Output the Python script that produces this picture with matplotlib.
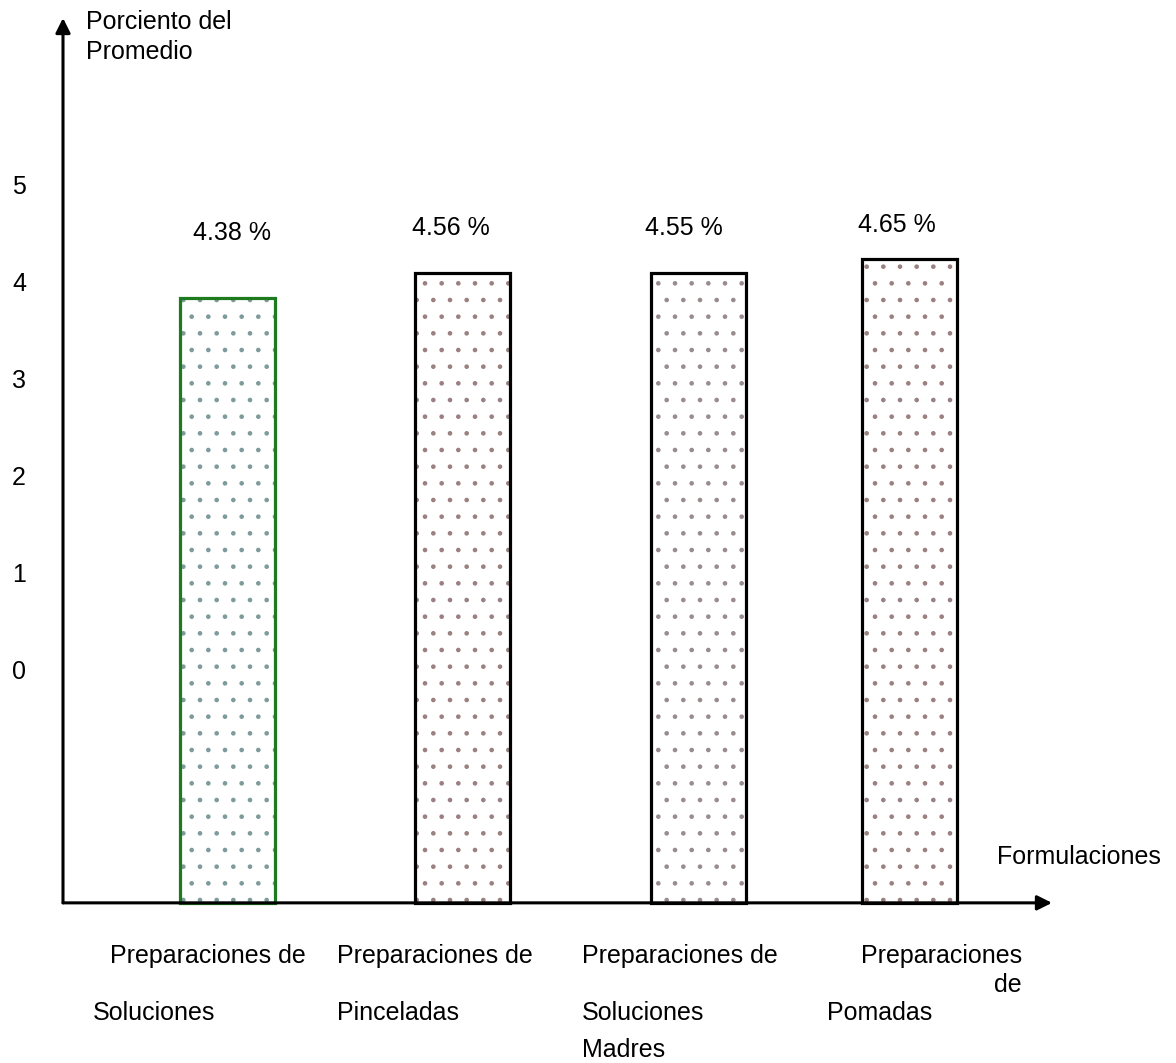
import matplotlib.pyplot as plt

# === Daten ===
categories = [
    ["Preparaciones de", "Soluciones"],
    ["Preparaciones de", "Pinceladas"],
    ["Preparaciones de", "Soluciones", "Madres"],
    ["Preparaciones", "de", "Pomadas"],
]
percent_values = [4.38, 4.56, 4.55, 4.65]       # Beschriftung über den Balken
bar_heights = [3.86, 4.11, 4.11, 4.26]          # gezeichnete Höhe in Tick-Einheiten
y_ticks = [0, 1, 2, 3, 4, 5]
baseline = -2.38                                # Lage der x-Achse in Tick-Einheiten

# === Layout (Pixel) ===
W, H = 1176, 1063
y0_px, unit_px = 672, 97                        # Pixel von Tick "0", Pixel pro Einheit
bar_left = [180, 415, 651, 862]
bar_width = 95
edge_colors = ["#1e7a1e", "black", "black", "black"]
dot_colors = ["#7f9a9a", "#9a8080", "#9a8c8c", "#9a8080"]
pct_pos = [(193, 233), (412, 228), (645, 228), (858, 225)]


def ypx(p):
    return (y0_px - p) / unit_px


plt.rcParams["font.family"] = ["Liberation Sans", "DejaVu Sans"]
plt.rcParams["hatch.linewidth"] = 0.9

fig = plt.figure(figsize=(W / 100, H / 100), dpi=100)
ax = fig.add_axes([0, 0, 1, 1])
ax.set_xlim(0, W)
ax.set_ylim(ypx(H), ypx(0))
ax.axis("off")

# Balken: erst Punktmuster, dann Umriss
for i, h in enumerate(bar_heights):
    ax.bar(bar_left[i], h - baseline, width=bar_width, bottom=baseline, align="edge",
           facecolor="white", edgecolor=dot_colors[i], linewidth=0, hatch=".", zorder=2)
    ax.bar(bar_left[i], h - baseline, width=bar_width, bottom=baseline, align="edge",
           fill=False, edgecolor=edge_colors[i], linewidth=2.3, zorder=3)

# Achsen mit Pfeilen
ax.annotate("", xy=(63, ypx(18)), xytext=(63, baseline),
            arrowprops=dict(arrowstyle="-|>", lw=2.2, color="black", mutation_scale=22,
                            shrinkA=0, shrinkB=0), zorder=4)
ax.annotate("", xy=(1052, baseline), xytext=(63, baseline),
            arrowprops=dict(arrowstyle="-|>", lw=2.2, color="black", mutation_scale=22,
                            shrinkA=0, shrinkB=0), zorder=4)

fs = 18

# Y-Ticks (nur Beschriftung)
for t in y_ticks:
    ax.text(12, t, str(t), fontsize=fs, va="center", ha="left")

ax.text(86, ypx(22), "Porciento del", fontsize=fs, va="center", ha="left")
ax.text(86, ypx(52), "Promedio", fontsize=fs, va="center", ha="left")
ax.text(997, ypx(857), "Formulaciones", fontsize=fs, va="center", ha="left")

# Prozentwerte
for v, (x, y) in zip(percent_values, pct_pos):
    ax.text(x, ypx(y), f"{v:.2f} %", fontsize=fs, va="center", ha="left")

# Kategorien (unregelmäßig gesetzt wie im Original)
cat_lines = [
    [(110, 956, "left"), (93, 1013, "left")],
    [(337, 956, "left"), (337, 1013, "left")],
    [(582, 956, "left"), (582, 1013, "left"), (582, 1050, "left")],
    [(1022, 956, "right"), (1022, 985, "right"), (827, 1013, "left")],
]
for lines, pos in zip(categories, cat_lines):
    for txt, (x, y, ha) in zip(lines, pos):
        ax.text(x, ypx(y), txt, fontsize=fs, va="center", ha=ha)

fig.savefig("out.png", dpi=100)
